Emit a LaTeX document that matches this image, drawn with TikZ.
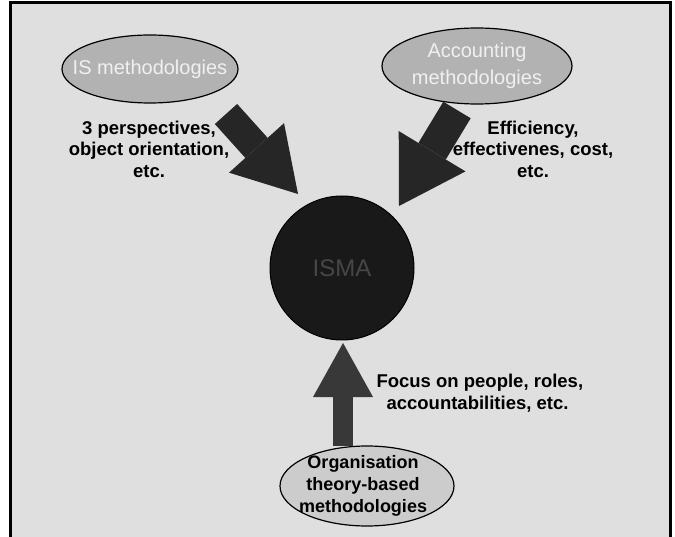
\documentclass[tikz,border=0pt]{standalone}
\usepackage{fontspec}
\setmainfont{Liberation Sans}
\usetikzlibrary{arrows.meta,shapes.geometric}
\begin{document}
\begin{tikzpicture}[x=1pt,y=-1pt,
  oval/.style={draw=black,line width=1.2pt,ellipse,inner sep=0pt},
  ovaltext/.style={font=\fontsize{20}{27}\selectfont,text=gray!12,align=center},
  note/.style={font=\bfseries\fontsize{18.5}{21.5}\selectfont,align=center},
  bigarrow/.style={line width=#1,line cap=butt,draw=black!85},
  bigarrow/.default=30pt]
% page and framed panel
\useasboundingbox (0,0) rectangle (675,537);
\fill[white] (0,0) rectangle (675,537);
\fill[gray!25] (10,3) rectangle (670,545);
\draw[line width=3pt] (10,545) -- (10,3) -- (670,3) -- (670,545);

% sources and the central circle
\node[oval,fill=gray!60,minimum width=176pt,minimum height=68pt] (is) at (150,69) {};
\node[ovaltext] (istext) at (is) {IS methodologies};
\node[oval,fill=gray!60,minimum width=190pt,minimum height=76pt] (acc) at (477,66) {};
\node[ovaltext] (acctext) at (acc) {Accounting\\methodologies};
\node[oval,fill=gray!40,minimum width=174pt,minimum height=80pt] (org) at (367,486) {};
\node[font=\bfseries\fontsize{18}{22}\selectfont,align=center] (orgtext) at ([xshift=-4pt]org) {Organisation\\theory-based\\methodologies};
\node[circle,draw=black,line width=1pt,fill=black!90,minimum size=144pt] (core) at (342,268) {};
\node[text=black!72,font=\fontsize{24}{28}\selectfont] (coretext) at (core) {ISMA};

% block arrows into the circle
\coordinate (t1) at (226,114);
\coordinate (h1) at (298,194);
\coordinate (t2) at (457,110);
\coordinate (h2) at (399,206);
\coordinate (t3) at (343,446);
\coordinate (h3) at (343,343);
\draw[bigarrow=30pt,-{Triangle[width=74pt,length=62pt,line width=0pt]}] (t1) -- (h1);
\draw[bigarrow=32pt,-{Triangle[width=78pt,length=64pt,line width=0pt]}] (t2) -- (h2);
\draw[bigarrow=20pt,draw=black!78,-{Triangle[width=60pt,length=54pt,line width=0pt]}] (t3) -- (h3);

% labels beside the arrows
\node[note] (n1) at (149,149) {3 perspectives,\\object orientation,\\etc.};
\node[note] (n2) at (533,149) {Efficiency,\\effectivenes, cost,\\etc.};
\node[note,align=left,anchor=west] (n3) at (373,393) {Focus on people, roles,\\\hspace*{10pt}accountabilities, etc.};
\end{tikzpicture}
\end{document}
